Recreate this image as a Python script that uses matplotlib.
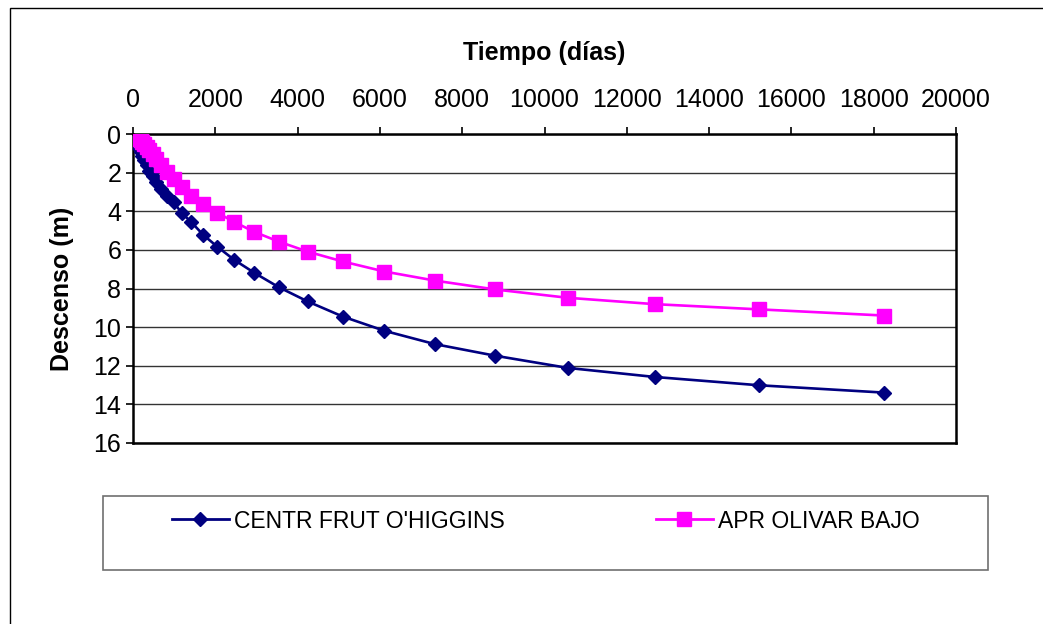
import matplotlib
matplotlib.use("Agg")
import matplotlib.pyplot as plt
from matplotlib.lines import Line2D
from matplotlib.patches import Rectangle

plt.rcParams['font.family'] = ['Liberation Sans', 'DejaVu Sans']

# time (days) and drawdown (m)
tiempo = [5, 10, 15, 20, 25, 30, 35, 45, 55, 65, 75, 90, 110, 130, 160, 190,
          230, 275, 330, 395, 475, 570, 685, 820, 985, 1185, 1420, 1705,
          2045, 2455, 2950, 3540, 4245, 5095, 6110, 7335, 8800, 10560,
          12675, 15210, 18250]

centr_frut = [0.0, 0.01, 0.02, 0.04, 0.06, 0.08, 0.11, 0.15, 0.2, 0.26, 0.32,
              0.4, 0.5, 0.62, 0.76, 0.93, 1.12, 1.35, 1.6, 1.9, 2.2, 2.5,
              2.85, 3.2, 3.53, 4.09, 4.57, 5.22, 5.83, 6.51, 7.19, 7.93,
              8.67, 9.45, 10.19, 10.88, 11.48, 12.11, 12.58, 13.01, 13.39]

apr_olivar = [0.0, 0.0, 0.0, 0.0, 0.01, 0.01, 0.02, 0.03, 0.04, 0.06, 0.08,
              0.11, 0.15, 0.2, 0.26, 0.33, 0.42, 0.53, 0.67, 0.84, 1.05, 1.3,
              1.6, 1.95, 2.35, 2.75, 3.2, 3.64, 4.07, 4.55, 5.07, 5.57,
              6.09, 6.6, 7.12, 7.59, 8.05, 8.48, 8.81, 9.08, 9.40]

serie1 = "CENTR FRUT O'HIGGINS"
serie2 = "APR OLIVAR BAJO"
navy = '#000080'
pink = '#FF00FF'

fig = plt.figure(figsize=(10.43, 6.24), dpi=100)
fig.patch.set_facecolor('white')

# outer chart border (left/top visible)
fig.patches.append(Rectangle((10 / 1043, -0.05), 1.1, 1 - 8 / 624 + 0.05,
                             transform=fig.transFigure, fill=False,
                             edgecolor='black', linewidth=1.0))

ax = fig.add_axes([133 / 1043, 1 - 443 / 624, 823 / 1043, 309 / 624])

l1, = ax.plot(tiempo, centr_frut, color=navy, lw=1.9, marker='D',
              markersize=7, zorder=3)
l2, = ax.plot(tiempo, apr_olivar, color=pink, lw=1.9, marker='s',
              markersize=10.5, zorder=4)

ax.set_xlim(0, 20000)
ax.set_ylim(16, 0)
ax.set_xticks(range(0, 20001, 2000))
ax.set_yticks(range(0, 17, 2))
ax.xaxis.tick_top()
ax.xaxis.set_label_position('top')
ax.tick_params(axis='both', labelsize=18, length=5, width=1.2, direction='out',
               colors='black')
ax.tick_params(axis='x', pad=11)
ax.tick_params(axis='y', pad=3.5)

ax.set_xlabel('Tiempo (días)', fontsize=18, fontweight='bold', labelpad=20)
ax.set_ylabel('Descenso (m)', fontsize=18, fontweight='bold', labelpad=14)

ax.grid(axis='y', color='#333333', linewidth=1.0)
for s in ax.spines.values():
    s.set_linewidth(1.8)
    s.set_color('black')

# legend box
fig.patches.append(Rectangle((103 / 1043, 1 - 570 / 624), 885 / 1043, 74 / 624,
                             transform=fig.transFigure, fill=False,
                             edgecolor='#707070', linewidth=1.2))

h1 = Line2D([], [], color=navy, lw=2, marker='D', markersize=7)
h2 = Line2D([], [], color=pink, lw=2, marker='s', markersize=10.5)
fig.legend([h1], [serie1], loc='center left', frameon=False, fontsize=16.5,
           bbox_to_anchor=(151 / 1043, 1 - 521 / 624), handlelength=2.5,
           handletextpad=0.2)
fig.legend([h2], [serie2], loc='center left', frameon=False, fontsize=16.5,
           bbox_to_anchor=(635 / 1043, 1 - 521 / 624), handlelength=2.5,
           handletextpad=0.2)

fig.savefig('out.png', dpi=100)
